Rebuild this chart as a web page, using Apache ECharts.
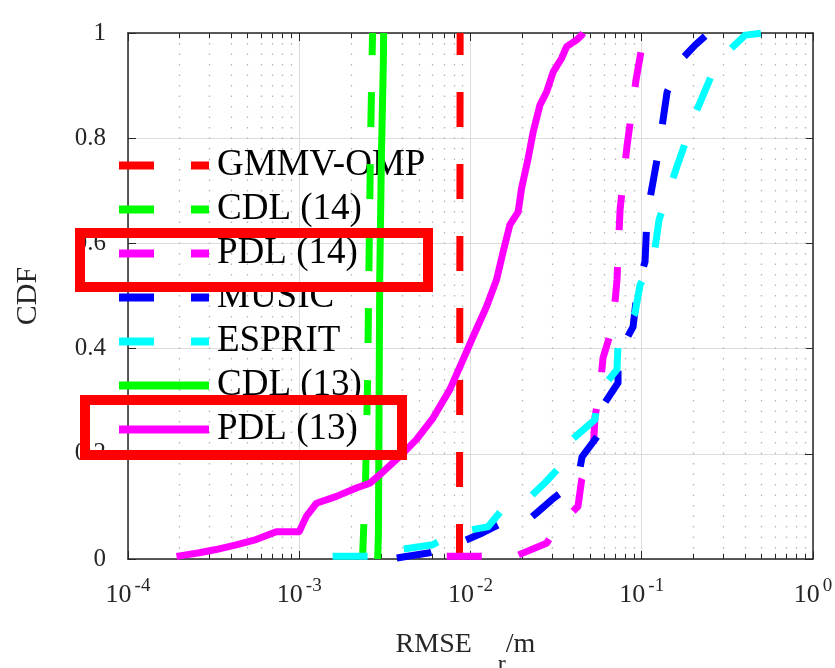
<!DOCTYPE html>
<html><head><meta charset="utf-8">
<script src="https://cdn.jsdelivr.net/npm/echarts@6/dist/echarts.min.js"></script>
<style>html,body{margin:0;padding:0;background:#fff}#c{width:835px;height:668px}</style>
</head><body><div id="c"></div>
<script>
const seriesNames = ['GMMV-OMP','CDL (14)','PDL (14)','MUSIC','ESPRIT','CDL (13)','PDL (13)'];
const seriesColors = ['#ff0000','#00ff00','#ff00ff','#0000ff','#00ffff','#00ff00','#ff00ff'];
const gmmvOmp = [[0.00862,0],[0.0087,1]];
const cdl14 = [[0.00234,0],[0.00244,0.15],[0.00251,0.35],[0.00254,0.5],[0.00261,0.8],[0.00268,1]];
const pdl14 = [[0.00727,0.005],[0.0118,0.005],[0.0185,0.006],[0.0278,0.030],[0.0324,0.062],[0.0424,0.100],[0.0446,0.151],[0.0521,0.208],[0.0533,0.270],[0.0570,0.322],[0.0594,0.382],[0.0679,0.445],[0.0717,0.531],[0.0727,0.578],[0.0747,0.664],[0.0820,0.785],[0.0926,0.911],[0.1018,0.987],[0.1164,1.0]];
const music = [[0.00371,0.002],[0.00578,0.012],[0.00810,0.027],[0.0118,0.050],[0.01545,0.069],[0.0210,0.070],[0.0244,0.088],[0.0299,0.113],[0.0424,0.151],[0.0448,0.194],[0.0570,0.240],[0.0586,0.289],[0.0727,0.335],[0.0727,0.389],[0.0889,0.441],[0.0951,0.521],[0.1045,0.565],[0.1074,0.654],[0.1245,0.770],[0.1406,0.888],[0.1744,0.953],[0.2049,0.977],[0.2345,0.994]];
const esprit = [[0.001566,0.005],[0.00251,0.005],[0.00315,0.014],[0.00386,0.018],[0.00602,0.027],[0.00810,0.050],[0.01262,0.061],[0.01524,0.093],[0.02163,0.114],[0.0272,0.145],[0.0356,0.185],[0.0391,0.227],[0.0533,0.265],[0.0555,0.316],[0.0717,0.360],[0.0727,0.411],[0.0914,0.468],[0.0977,0.521],[0.1164,0.565],[0.1262,0.645],[0.1608,0.747],[0.2077,0.850],[0.2757,0.945],[0.4018,0.996],[0.5053,1.0]];
const cdl13 = [[0.00287,0],[0.00290,0.05],[0.00295,0.53],[0.00302,0.77],[0.00310,0.95],[0.00311,1]];
const pdl13 = [[1.92e-4,0.005],[2.61e-4,0.012],[3.27e-4,0.018],[4.28e-4,0.027],[5.6e-4,0.037],[7.34e-4,0.052],[1.0e-3,0.052],[1.10e-3,0.081],[1.26e-3,0.106],[1.65e-3,0.119],[2.15e-3,0.135],[2.58e-3,0.144],[3.0e-3,0.162],[3.86e-3,0.195],[4.83e-3,0.227],[6.04e-3,0.268],[7.57e-3,0.322],[9.05e-3,0.379],[0.01036,0.423],[0.01241,0.480],[0.01419,0.531],[0.01551,0.584],[0.01697,0.635],[0.01898,0.660],[0.01987,0.705],[0.02172,0.762],[0.02323,0.812],[0.02543,0.863],[0.02783,0.888],[0.03041,0.926],[0.03404,0.952],[0.03642,0.974],[0.04168,0.987],[0.04458,0.996],[0.0455,1.0]];
const seriesData = [gmmvOmp, cdl14, pdl14, music, esprit, cdl13, pdl13];
const seriesDashed = [true, true, true, true, true, false, false];
const xTickExponents = ['-4','-3','-2','-1','0'];
const yTickLabels = ['0','0.2','0.4','0.6','0.8','1'];
const decades = [1e-4, 1e-3, 1e-2, 1e-1];
const minorMultipliers = [2,3,4,5,6,7,8,9];

const minorVals = [];
decades.forEach(d => minorMultipliers.forEach(m => minorVals.push(m * d)));

const FONT = 'Liberation Serif';
const AXC = '#262626';
const chart = echarts.init(document.getElementById('c'), null, {renderer: 'canvas'});

const dataSeries = seriesNames.map((n, i) => ({
  name: n, type: 'line', data: seriesData[i], symbol: 'none', showSymbol: false,
  xAxisIndex: 0, yAxisIndex: 0, z: 3 + i, clip: true,
  lineStyle: {color: seriesColors[i], width: 7, type: seriesDashed[i] ? [35, 37] : 'solid', cap: 'butt', join: 'round'},
  itemStyle: {color: seriesColors[i]},
  emphasis: {disabled: true}
}));

const minorGrid = {
  type: 'lines', coordinateSystem: 'cartesian2d', xAxisIndex: 0, yAxisIndex: 0,
  polyline: false, silent: true, z: 1, animation: false,
  lineStyle: {color: '#b4b4b4', type: [1.5, 9], width: 1.3, opacity: 1, curveness: 0},
  data: minorVals.map(v => ({coords: [[v, 0], [v, 1]]}))
};
const minorTicks = {
  type: 'lines', coordinateSystem: 'cartesian2d', xAxisIndex: 0, yAxisIndex: 0,
  polyline: false, silent: true, z: 2, animation: false,
  lineStyle: {color: AXC, type: 'solid', width: 1, opacity: 1, curveness: 0},
  data: minorVals.map(v => ({coords: [[v, 0], [v, 0.01]]}))
    .concat(minorVals.map(v => ({coords: [[v, 1], [v, 0.99]]})))
};

const option = {
  animation: false,
  backgroundColor: '#ffffff',
  grid: {left: 128, right: 22, top: 33, bottom: 109, containLabel: false, outerBoundsMode: 'none'},
  xAxis: [{
    type: 'log', logBase: 10, min: 1e-4, max: 1, splitNumber: 4,
    axisLine: {show: true, onZero: false, lineStyle: {color: AXC, width: 1.5}},
    axisTick: {show: true, inside: true, length: 8, lineStyle: {color: AXC, width: 1}},
    axisLabel: {
      margin: 18,
      formatter: v => '{b|10}{e|' + xTickExponents[Math.round(Math.log10(v)) + 4] + '}',
      rich: {
        b: {fontFamily: FONT, fontSize: 26, color: AXC, verticalAlign: 'bottom'},
        e: {fontFamily: FONT, fontSize: 19, color: AXC, verticalAlign: 'bottom', padding: [0, 0, 12, 3]}
      }
    },
    splitLine: {show: true, lineStyle: {color: '#dcdcdc', width: 1}},
    name: '{a|RMSE}{s|r}{a|/m}', nameLocation: 'middle', nameGap: 72,
    nameTextStyle: {padding: [0, 10, 0, 0], rich: {
      a: {fontFamily: FONT, fontSize: 28, color: AXC, verticalAlign: 'bottom', padding: [0, 0, 18, 0]},
      s: {fontFamily: FONT, fontSize: 24, color: AXC, verticalAlign: 'bottom', padding: [0, 0, 0, 26]}
    }}
  }, {
    type: 'log', logBase: 10, min: 1e-4, max: 1, splitNumber: 4, position: 'top',
    axisLine: {show: true, onZero: false, lineStyle: {color: AXC, width: 1.5}},
    axisTick: {show: true, inside: true, length: 8, lineStyle: {color: AXC, width: 1}},
    axisLabel: {show: false}, splitLine: {show: false}
  }],
  yAxis: [{
    type: 'value', min: 0, max: 1, interval: 0.2,
    axisLine: {show: true, onZero: false, lineStyle: {color: AXC, width: 1.5}},
    axisTick: {show: true, inside: true, length: 8, lineStyle: {color: AXC, width: 1}},
    axisLabel: {margin: 22, fontFamily: FONT, fontSize: 25, color: AXC, padding: [0, 0, 18, 0],
      formatter: (v) => yTickLabels[Math.round(v * 5)]},
    splitLine: {show: true, lineStyle: {color: '#dcdcdc', width: 1}},
    name: 'CDF', nameLocation: 'middle', nameGap: 85, nameRotate: 90,
    nameTextStyle: {fontFamily: FONT, fontSize: 30, color: AXC}
  }, {
    type: 'value', min: 0, max: 1, interval: 0.2, position: 'right',
    axisLine: {show: true, onZero: false, lineStyle: {color: AXC, width: 1.5}},
    axisTick: {show: true, inside: true, length: 8, lineStyle: {color: AXC, width: 1}},
    axisLabel: {show: false}, splitLine: {show: false}
  }],
  legend: {
    data: seriesNames, orient: 'vertical', left: 110, top: 142, padding: 5,
    itemWidth: 90, itemHeight: 14, itemGap: 7, selectedMode: false,
    lineStyle: {width: 8},
    itemStyle: {color: 'rgba(0,0,0,0)', borderWidth: 0, opacity: 0},
    textStyle: {fontFamily: FONT, fontSize: 37, color: '#000', lineHeight: 37, padding: [0, 0, 0, 3]}
  },
  graphic: [
    {type: 'rect', z: 100, silent: true, shape: {x: 80, y: 233, width: 348, height: 54},
      style: {fill: 'none', stroke: '#ff0000', lineWidth: 10}},
    {type: 'rect', z: 100, silent: true, shape: {x: 85, y: 400, width: 317, height: 55},
      style: {fill: 'none', stroke: '#ff0000', lineWidth: 10}}
  ],
  series: [minorGrid, minorTicks].concat(dataSeries)
};
chart.setOption(option);
</script></body></html>
